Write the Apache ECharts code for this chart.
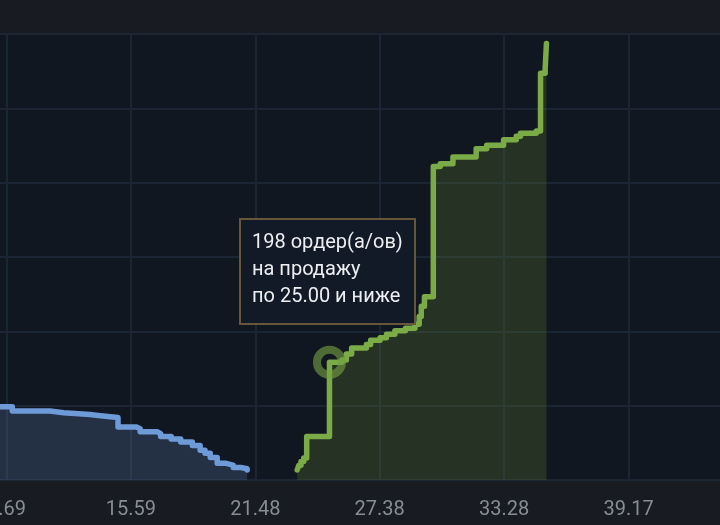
<!DOCTYPE html>
<html><head><meta charset="utf-8">
<script src="https://cdn.jsdelivr.net/npm/echarts@6/dist/echarts.min.js"></script>
<style>html,body{margin:0;padding:0;background:#181b22;}#c{width:720px;height:525px;}</style>
</head><body><div id="c"></div>
<script>
// X axis ticks (price)
const xTickStart = 3.796;
const xTickStep = 5.896;
const xTickCount = 7;
// Y axis (cumulative orders)
const yMax = 750;
const yStep = 125;

// Bid side (buy) – price, cumulative orders
const bidPrices = [9.0, 9.97, 11.75, 12.4, 13.65, 14.15, 14.98, 15.85, 16.03, 16.85, 17.0, 17.5, 17.95, 18.5, 18.87, 19.1, 19.35, 19.68, 20.1, 20.44, 20.8, 21.1];
const bidDepth  = [123, 116, 113, 110, 108, 105, 89, 86, 81, 78, 73, 69, 64, 58, 50, 45, 38, 28, 25, 21, 19, 17];

// Ask side (sell) – price, cumulative orders
const askPrices = [23.47, 23.55, 23.65, 23.78, 23.92, 25.0, 25.59, 25.8, 26.05, 26.75, 26.95, 27.4, 27.7, 28.1, 28.6, 29.05, 29.25, 29.35, 29.5, 29.92, 30.25, 30.85, 31.95, 32.45, 33.25, 33.85, 34.05, 34.8, 35.0, 35.22, 35.28];
const askDepth  = [17, 25, 31, 37, 73, 198, 202, 212, 222, 228, 235, 239, 245, 251, 255, 262, 275, 292, 308, 527, 532, 543, 557, 563, 572, 578, 583, 587, 684, 692, 734];

// Highlighted point and its tooltip
const highlightPrice = 25.00;
const highlightDepth = 198;
const tooltipLines = ['198 ордер(а/ов)', 'на продажу', 'по 25.00 и ниже'];

const chart = echarts.init(document.getElementById('c'), null, {renderer: 'canvas'});
const zip = (a, b) => a.map((v, i) => [v, b[i]]);

chart.setOption({
  animation: false,
  backgroundColor: '#181b22',
  grid: {
    left: -118, right: -33, top: 34, bottom: 45,
    containLabel: false, outerBoundsMode: 'none',
    show: true, backgroundColor: '#111720',
    borderColor: '#1c2839', borderWidth: 2
  },
  xAxis: {
    type: 'value',
    min: xTickStart,
    max: xTickStart + xTickStep * xTickCount,
    interval: xTickStep,
    axisLine: {show: false},
    axisTick: {show: false},
    axisLabel: {
      formatter: v => v.toFixed(2),
      color: '#878c95', fontSize: 20, fontFamily: 'Roboto', margin: 20
    },
    splitLine: {show: true, lineStyle: {color: '#1b2534', width: 2}}
  },
  yAxis: {
    type: 'value', min: 0, max: yMax, interval: yStep,
    axisLine: {show: false}, axisTick: {show: false}, axisLabel: {show: false},
    splitLine: {show: true, lineStyle: {color: '#1b2534', width: 2}}
  },
  series: [
    {
      type: 'line', step: 'end', symbol: 'none',
      data: zip(bidPrices, bidDepth),
      lineStyle: {color: '#6e9bd8', width: 5.5, cap: 'round', join: 'round'},
      areaStyle: {color: 'rgba(107,142,199,0.3)'},
      z: 3
    },
    {
      type: 'line', step: 'end', symbol: 'none',
      data: zip(askPrices, askDepth),
      lineStyle: {color: '#7aab46', width: 5.5, cap: 'round', join: 'round'},
      areaStyle: {color: 'rgba(112,152,52,0.3)'},
      z: 3,
      markPoint: {
        silent: true,
        symbol: 'circle', symbolSize: 25,
        itemStyle: {color: 'rgba(0,0,0,0)', borderColor: 'rgba(118,160,66,0.62)', borderWidth: 8},
        label: {show: false},
        data: [{coord: [highlightPrice, highlightDepth]}]
      }
    }
  ],
  graphic: [
    {type: 'rect', z: 100, shape: {x: 240, y: 219, width: 175, height: 105},
     style: {fill: '#121a27', stroke: '#66573a', lineWidth: 2}},
    {type: 'text', z: 101, x: 252, y: 229,
     style: {text: tooltipLines.join('\n'), font: '20px Roboto', fill: '#eceef0', lineHeight: 27}}
  ]
});
</script></body></html>
